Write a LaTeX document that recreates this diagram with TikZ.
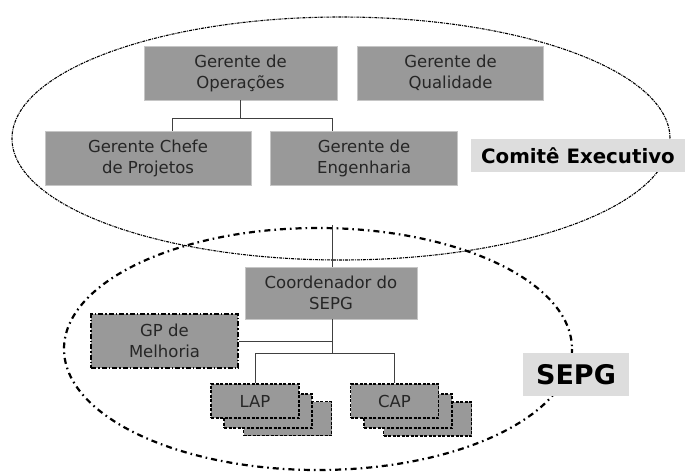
\documentclass[tikz,border=0pt]{standalone}
\usepackage{fontspec}
\setmainfont{DejaVu Sans}
\usetikzlibrary{positioning}

\begin{document}
\begin{tikzpicture}[x=1pt, y=-1pt,
                    cargo/.style={rectangle, fill=gray!80, draw=gray!45, line width=0.6pt, text=black!85, align=center,
                                  inner sep=0pt, font=\fontsize{16.5}{21}\selectfont},
                    melhoria/.style={cargo, draw=black, line width=1.5pt, dash pattern=on 5pt off 2pt on 1.5pt off 2pt},
                    grupo/.style={cargo, draw=black, line width=1.2pt, dash pattern=on 3pt off 1.5pt,
                                  minimum width=88pt, minimum height=34pt},
                    rotulo/.style={rectangle, fill=gray!27, inner sep=0pt, text=black, font=\bfseries},
                    linha/.style={draw=black!75, line width=0.8pt}]
    \useasboundingbox (0,0) rectangle (685,472);
    % comite and sepg ellipses
    \draw[line width=1.1pt, dash pattern=on 3pt off 1pt on 1pt off 1pt] (341,138.5) ellipse [x radius=329, y radius=121.5];
    \draw[line width=2.2pt, dash pattern=on 6pt off 4pt on 1.6pt off 4pt] (318,349) ellipse [x radius=254, y radius=121];
    % comite executivo
    \node[cargo, minimum width=193pt, minimum height=54pt] (ops)  at (240.5,73)            {Gerente de\\Operações};
    \node[cargo, minimum width=186pt, minimum height=54pt] (qual) [right=20pt of ops]       {Gerente de\\Qualidade};
    \node[cargo, minimum width=206pt, minimum height=54pt] (chefe) at (148,158)            {Gerente Chefe\\de Projetos};
    \node[cargo, minimum width=187pt, minimum height=54pt] (eng)  [right=19pt of chefe]     {Gerente de\\Engenharia};
    \node[rotulo, minimum width=214pt, minimum height=33pt, font=\bfseries\fontsize{19.8}{24}\selectfont] (comite) at (578,155.5) {Comitê Executivo};
    % sepg
    \node[cargo, minimum width=172pt, minimum height=52pt] (coord) at (331,293)            {Coordenador do\\SEPG};
    \node[melhoria, minimum width=147pt, minimum height=54pt] (gp) at (164.5,341)          {GP de\\Melhoria};
    \node[grupo] (lap3) at (287.5,418.5) {};
    \node[grupo] (lap2) at (268,411)     {};
    \node[grupo] (lap)  at (255,401)     {LAP};
    \node[grupo] (cap3) at (427.5,419)   {};
    \node[grupo] (cap2) at (408,411)     {};
    \node[grupo] (cap)  at (394.5,401)   {CAP};
    \node[rotulo, minimum width=106pt, minimum height=43pt, font=\bfseries\fontsize{27}{30}\selectfont] (sepg) at (576,374.5) {SEPG};
    % lines
    \coordinate (topo) at (332,225);
    \draw[linha] (ops.south) -- ++(0,18) coordinate (juncao);
    \draw[linha] ([xshift=24pt]chefe.north) |- (juncao) -| ([xshift=-31.5pt]eng.north);
    \draw[linha] (topo) -- ([xshift=1pt]coord.north);
    \draw[linha] ([xshift=1pt]coord.south) -- ++(0,34) coordinate (juncao2);
    \draw[linha] (gp.east) -- (gp.east -| juncao2);
    \draw[linha] (lap.north) |- (juncao2) -| (cap.north);
\end{tikzpicture}
\end{document}
